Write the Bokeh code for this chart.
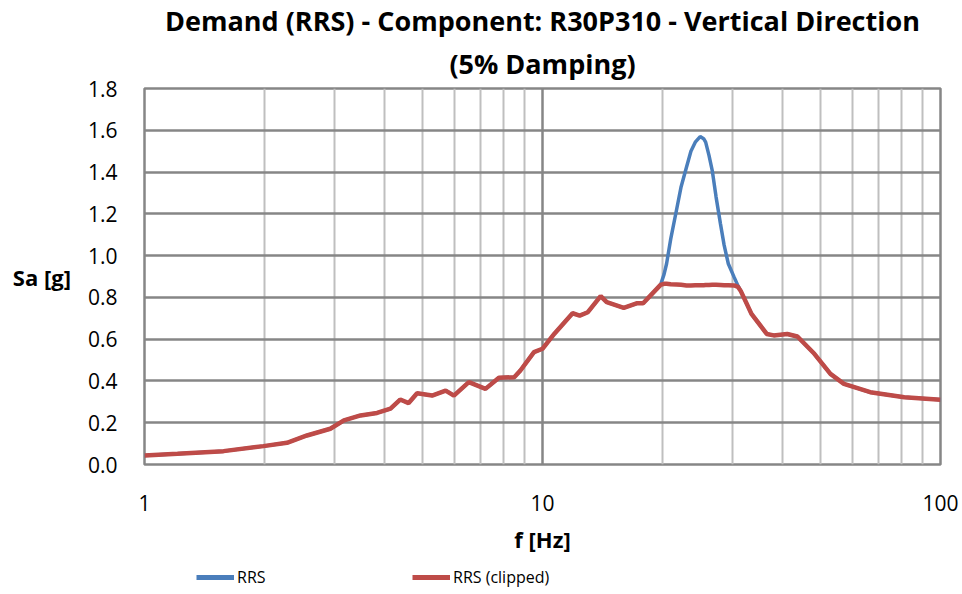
from bokeh.plotting import figure
from bokeh.layouts import column
from bokeh.models import FixedTicker, Legend, LegendItem, NumeralTickFormatter, Title, Range1d
from bokeh.embed import file_html
from bokeh.resources import INLINE

# Frequency grid [Hz]
freq = [1.0, 1.21, 1.58, 1.99, 2.28, 2.56, 2.93, 3.17, 3.49, 3.84, 4.15, 4.39, 4.61, 4.84,
        5.28, 5.71, 5.99, 6.53, 7.19, 7.77, 8.49, 8.8, 9.52, 10.0, 10.7, 11.9, 12.4, 13.0,
        14.0, 14.5, 16.0, 17.3, 17.9, 19.8, 20.2, 20.5, 21.0, 21.7, 22.3, 23.0, 23.6, 24.2,
        24.9, 25.4, 25.7, 26.2, 26.7, 27.3, 28.0, 28.6, 29.3, 30.3, 31.0, 31.5, 33.5, 36.6,
        38.1, 41.2, 43.7, 48.2, 52.9, 57.2, 66.6, 81.1, 100.0]

# RRS [g]
rrs = [0.043, 0.051, 0.064, 0.088, 0.104, 0.139, 0.171, 0.211, 0.235, 0.247, 0.267, 0.311,
       0.294, 0.341, 0.330, 0.354, 0.330, 0.394, 0.362, 0.415, 0.418, 0.450, 0.538, 0.554,
       0.625, 0.724, 0.713, 0.729, 0.806, 0.777, 0.750, 0.772, 0.772, 0.860, 0.910, 0.961,
       1.080, 1.216, 1.330, 1.423, 1.500, 1.543, 1.570, 1.560, 1.543, 1.480, 1.407, 1.280,
       1.152, 1.050, 0.961, 0.897, 0.855, 0.830, 0.721, 0.625, 0.618, 0.625, 0.613, 0.530,
       0.434, 0.386, 0.346, 0.322, 0.310]

# RRS (clipped) [g]
rrs_clipped = [0.043, 0.051, 0.064, 0.088, 0.104, 0.139, 0.171, 0.211, 0.235, 0.247, 0.267,
               0.311, 0.294, 0.341, 0.330, 0.354, 0.330, 0.394, 0.362, 0.415, 0.418, 0.450,
               0.538, 0.554, 0.625, 0.724, 0.713, 0.729, 0.806, 0.777, 0.750, 0.772, 0.772,
               0.860, 0.865, 0.865, 0.863, 0.862, 0.860, 0.857, 0.857, 0.858, 0.858, 0.858,
               0.859, 0.859, 0.860, 0.860, 0.859, 0.858, 0.858, 0.857, 0.850, 0.830, 0.721,
               0.625, 0.618, 0.625, 0.613, 0.530, 0.434, 0.386, 0.346, 0.322, 0.310]

x_ticks = [1, 10, 100]
x_minor = [2, 3, 4, 5, 6, 7, 8, 9, 20, 30, 40, 50, 60, 70, 80, 90]
y_ticks = [0.0, 0.2, 0.4, 0.6, 0.8, 1.0, 1.2, 1.4, 1.6, 1.8]
series_names = ["RRS", "RRS (clipped)"]
series_values = [rrs, rrs_clipped]
series_colors = ["#4a7ebb", "#be4b48"]
series_widths = [3.5, 4.5]

FONT = "Open Sans"

p = figure(width=960, height=562, x_axis_type="log", x_range=(1, 100), y_range=(0, 1.8),
           output_backend="svg", toolbar_location=None,
           min_border_left=144, min_border_right=20, min_border_top=88, min_border_bottom=98)

# far title line
p.title.text = "Demand (RRS) - Component: R30P310 - Vertical Direction"
p.title.align = "center"
p.title.text_font = FONT
p.title.text_font_size = "27px"
p.title.text_font_style = "bold"
p.title.text_color = "black"
p.title.standoff = -6
# near title line
p.add_layout(Title(text="(5% Damping)", align="center", text_font=FONT,
                   text_font_size="27px", text_font_style="bold", text_color="black",
                   standoff=14), "above")

p.xaxis.ticker = FixedTicker(ticks=x_ticks, minor_ticks=x_minor)
p.yaxis.ticker = FixedTicker(ticks=y_ticks)
p.xaxis.formatter = NumeralTickFormatter(format="0")
p.yaxis.formatter = NumeralTickFormatter(format="0.0")

for ax in (p.xaxis[0], p.yaxis[0]):
    ax.axis_line_color = None
    ax.major_tick_line_color = None
    ax.minor_tick_line_color = None
    ax.major_label_text_font = FONT
    ax.major_label_text_font_size = "21px"
    ax.major_label_text_color = "black"
    ax.axis_label_text_font = FONT
    ax.axis_label_text_font_size = "22px"
    ax.axis_label_text_font_style = "bold"
    ax.axis_label_text_color = "black"

p.xaxis.major_label_standoff = 24
p.yaxis.major_label_standoff = 21

p.xaxis.axis_label = "f [Hz]"
p.xaxis.axis_label_standoff = 10

p.yaxis.axis_label = "Sa [g]"
p.yaxis.axis_label_standoff = 14
p.yaxis.axis_label_orientation = "horizontal"

p.xgrid.grid_line_color = "#868686"
p.xgrid.grid_line_width = 2.5
p.xgrid.minor_grid_line_color = "#bfbfbf"
p.xgrid.minor_grid_line_width = 2
p.ygrid.grid_line_color = "#868686"
p.ygrid.grid_line_width = 2.5

p.outline_line_color = "#868686"
p.outline_line_width = 2.5

for vals, col, lw in zip(series_values, series_colors, series_widths):
    p.line(freq, vals, line_color=col, line_width=lw)

# legend strip below the chart (its own lines lie outside its view range)
leg = figure(width=960, height=30, x_range=Range1d(-2, -1), y_range=Range1d(-2, -1),
             output_backend="svg", toolbar_location=None,
             x_axis_location=None, y_axis_location=None,
             min_border_left=0, min_border_right=0, min_border_top=0, min_border_bottom=0)
leg.grid.visible = False
leg.outline_line_color = None
items = []
for name, vals, col in zip(series_names, series_values, series_colors):
    g = leg.line(freq, vals, line_color=col, line_width=5)
    items.append(LegendItem(label=name, renderers=[g]))
legend = Legend(items=items, orientation="horizontal", location=(52, 4),
                glyph_width=38, glyph_height=20, label_standoff=3, spacing=0,
                label_width=175, padding=0, margin=0,
                border_line_color=None, background_fill_alpha=0,
                label_text_font=FONT, label_text_font_size="16px", label_text_color="black")
leg.add_layout(legend)

layout = column(p, leg, spacing=0)
open("out.html", "w").write(file_html(layout, INLINE))
